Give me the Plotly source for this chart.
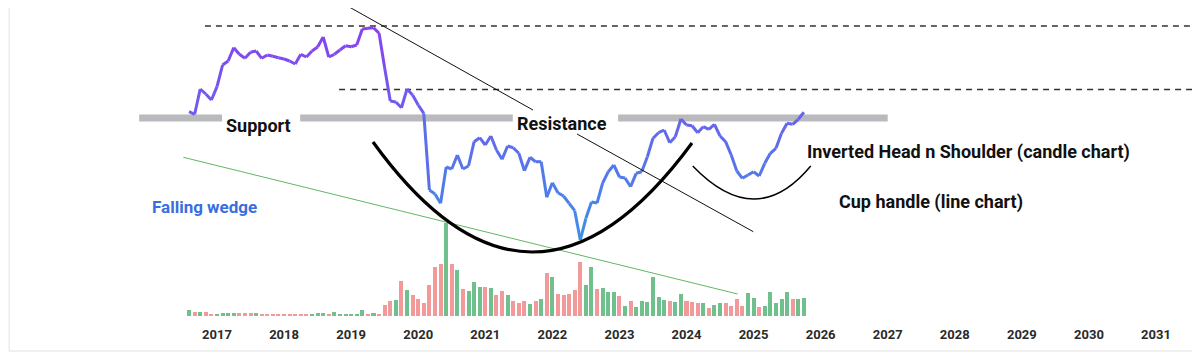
import plotly.graph_objects as go
import pandas as pd

# ---------------- data ----------------
start_month = "2016-08-01"
n_months = 111
months = pd.date_range(start_month, periods=n_months, freq="MS")

price = [208.3, 205.7, 231, 226, 220, 233.3, 255, 259, 272.3, 265.7,
         261.7, 267.7, 269, 261.7, 265, 263.7, 262.3, 261, 259, 256,
         265.7, 263, 269, 273, 283, 263, 265.7, 270, 274.3, 273.3,
         275, 291, 291.7, 292.3, 286.7, 252, 219, 218, 212.3, 231,
         225, 215, 206.7, 130, 126, 116.7, 153, 151, 165, 151,
         154, 178.3, 182.3, 175, 184, 170, 160.7, 174, 172.3, 166.7,
         149.3, 162.7, 158.3, 158.3, 122.7, 137.3, 127.3, 124, 116.7, 109.3,
         80, 101.7, 118, 117, 137, 148.3, 155, 143, 142, 133.3,
         146.7, 148.3, 163.3, 181.7, 187.3, 190, 177.3, 183.3, 201, 195,
         194.3, 187.3, 193.3, 190.7, 195.7, 184, 178.3, 165, 149, 141.7,
         145, 148.3, 144, 156.7, 166.7, 171.7, 186.7, 196.7, 195.7, 200.7,
         207.7]

volume = [6, 4, 4, 4.5, 2, 2, 3, 3, 3.5, 3,
          3, 3, 3.5, 2, 2, 1.5, 1.5, 2.5, 1.5, 2,
          2, 1.5, 2.5, 3, 3, 2.5, 4.5, 2.5, 2, 2,
          2, 6, 2, 3, 2.5, 11.3, 14.7, 15.7, 35, 26.3,
          20.7, 16.7, 12.7, 30.7, 49.3, 52, 93, 52, 46.3, 27.3,
          25, 34.3, 28.7, 29, 27.7, 21.3, 24.7, 21.3, 15.3, 13.3,
          14.7, 12, 15.3, 16.7, 42.7, 39.3, 21.7, 20.7, 22.3, 26,
          53.7, 31.3, 48.7, 26.7, 27.7, 24, 24, 19.7, 10, 14.7,
          8.7, 14.7, 14, 38.7, 19, 15.7, 14.7, 14, 22.3, 15.3,
          14, 12.7, 12.7, 8, 11.3, 12.7, 13.3, 9.7, 17.3, 10,
          23.3, 17.7, 9, 10, 24.3, 13.3, 17.3, 24.3, 17.3, 16.7,
          18]

direction = ["g", "r", "g", "r", "r", "g", "g", "g", "g", "r",
             "r", "r", "g", "r", "r", "r", "r", "r", "r", "r",
             "r", "r", "g", "g", "g", "r", "g", "g", "g", "g",
             "g", "g", "r", "g", "r", "r", "r", "g", "r", "g",
             "r", "r", "r", "r", "r", "r", "g", "r", "g", "r",
             "g", "g", "g", "r", "g", "r", "r", "g", "r", "r",
             "r", "g", "r", "g", "r", "g", "r", "r", "r", "r",
             "r", "g", "g", "r", "g", "g", "g", "r", "g", "r",
             "g", "g", "g", "g", "g", "g", "r", "g", "g", "r",
             "r", "r", "g", "r", "g", "g", "r", "r", "r", "r",
             "g", "g", "r", "g", "g", "g", "g", "g", "r", "g",
             "g"]

tick_years = list(range(2017, 2032))
tick_labels = [str(y) for y in tick_years]

# ---------------- styling ----------------
GREEN = "#6fc08c"
RED = "#f29a9a"
FONT = "Roboto"

x = [m.year + (m.month - 1) / 12 for m in months]

fig = go.Figure()

# volume bars (main y axis)
fig.add_trace(go.Bar(
    x=x, y=volume,
    marker=dict(color=[GREEN if d == "g" else RED for d in direction], line=dict(width=0)),
    width=0.06, yaxis="y", hoverinfo="skip",
))

# price line with vertical purple->blue gradient (segment by segment)
def grad(v):
    py = 320 - v
    t = min(max((py - 25) / 215.0, 0), 1)
    c0 = (139, 63, 240)
    c1 = (60, 145, 232)
    r, g, b = [round(a + (bb - a) * t) for a, bb in zip(c0, c1)]
    return f"rgb({r},{g},{b})"

for i in range(len(price) - 1):
    fig.add_trace(go.Scatter(
        x=[x[i], x[i + 1]], y=[price[i], price[i + 1]],
        mode="lines", line=dict(color=grad((price[i] + price[i + 1]) / 2), width=3),
        yaxis="y2", hoverinfo="skip", showlegend=False,
    ))

shapes = []
# dashed levels
shapes.append(dict(type="line", xref="x", yref="y2", x0=2016.82, x1=2031.7, y0=294, y1=294,
                   line=dict(color="#333", width=1.3, dash="6px,5px"), layer="below"))
shapes.append(dict(type="line", xref="x", yref="y2", x0=2018.82, x1=2031.7, y0=230.5, y1=230.5,
                   line=dict(color="#333", width=1.3, dash="6px,5px"), layer="below"))
# grey support / resistance band segments
for a, b in [(2015.84, 2017.075), (2018.24, 2021.41), (2022.98, 2027.0)]:
    shapes.append(dict(type="line", xref="x", yref="y2", x0=a, x1=b, y0=202, y1=202,
                       line=dict(color="#b9babe", width=7), layer="below"))
# black falling trend line (gap behind "Resistance")
shapes.append(dict(type="line", xref="x", yref="y2", x0=2018.785, y0=320, x1=2021.711, y1=210,
                   line=dict(color="#111", width=1)))
shapes.append(dict(type="line", xref="x", yref="y2", x0=2022.368, y0=186, x1=2024.996, y1=88.3,
                   line=dict(color="#111", width=1)))
# green falling wedge line
shapes.append(dict(type="line", xref="x", yref="y2", x0=2016.498, y0=162.7, x1=2024.763, y1=26,
                   line=dict(color="#5fb868", width=1)))
# big cup (quadratic bezier)
shapes.append(dict(type="path", xref="x", yref="y2",
                   path="M 2019.326 178 Q 2021.689 -41.5 2024.082 177",
                   line=dict(color="#000", width=3.2)))
# handle curve
shapes.append(dict(type="path", xref="x", yref="y2",
                   path="M 2024.093 154 Q 2025.037 88 2025.852 154",
                   line=dict(color="#000", width=1.5)))
# outer frame (left + bottom)
shapes.append(dict(type="path", xref="paper", yref="paper",
                   path="M 0.001 1.1 L 0.001 -0.1136 L 1 -0.1136",
                   line=dict(color="#ececec", width=1.5)))

annots = [
    dict(text="Support", x=2017.626, y=195, size=18, color="#111"),
    dict(text="Resistance", x=2022.151, y=197, size=18, color="#111"),
    dict(text="Inverted Head n Shoulder (candle chart)", x=2028.197, y=168, size=18, color="#111"),
    dict(text="Cup handle (line chart)", x=2027.638, y=118, size=18, color="#111"),
    dict(text="Falling wedge", x=2016.814, y=113, size=17, color="#3a6ee0"),
]
annotations = [dict(text=a["text"], x=a["x"], y=a["y"], xref="x", yref="y2",
                    showarrow=False, xanchor="center", yanchor="middle",
                    font=dict(family=FONT, size=a["size"], color=a["color"], weight=700))
               for a in annots]

fig.update_layout(
    width=1192, height=349,
    margin=dict(l=0, r=0, t=0, b=41),
    paper_bgcolor="white", plot_bgcolor="white",
    showlegend=False, hovermode=False, bargap=0,
    xaxis=dict(range=[2013.884, 2031.656], tickmode="array", tickvals=tick_years,
               ticktext=tick_labels, showgrid=False, zeroline=False, showline=False,
               ticks="outside", ticklen=6, tickcolor="rgba(0,0,0,0)",
               tickfont=dict(family=FONT, size=13, color="#2a2a2a", weight=700), fixedrange=True),
    yaxis=dict(range=[0, 308], visible=False, fixedrange=True),
    yaxis2=dict(range=[4, 312], visible=False, overlaying="y", fixedrange=True),
    shapes=shapes, annotations=annotations,
)

fig.write_html("out.html")
